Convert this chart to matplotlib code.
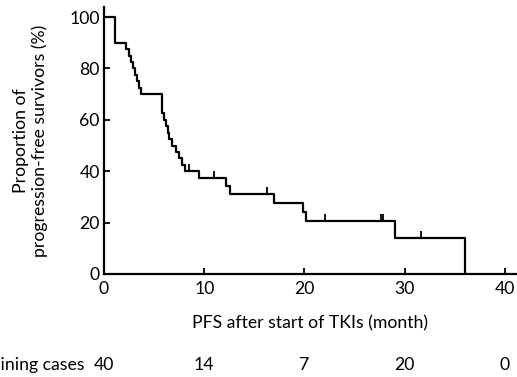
import matplotlib
matplotlib.use("Agg")
import matplotlib.pyplot as plt

plt.rcParams['font.family'] = ['Lato', 'DejaVu Sans']

# Kaplan-Meier steps (months, % surviving)
step_t = [0, 1.1, 2.2, 2.5, 2.7, 2.9, 3.1, 3.3, 3.5, 3.7,
          5.75, 6.0, 6.2, 6.35, 6.5, 6.8, 7.2, 7.5, 7.8, 8.1,
          9.5, 12.2, 12.6, 17.0, 19.9, 20.2, 29.0, 36.0]
step_s = [100, 90, 87.5, 85, 82.5, 80, 77.5, 75, 72.5, 70,
          62.5, 60, 57.5, 55, 52.5, 50, 47.5, 45, 42.5, 40,
          37.3, 34.3, 31.3, 27.8, 24.3, 20.8, 13.9, 0]
cens_t = [8.5, 11.0, 16.3, 22.0, 27.6, 27.85, 31.6]
cens_s = [40, 37.3, 31.3, 20.8, 20.8, 20.8, 13.9]

risk_t = [0, 10, 20, 30, 40]
risk_n = ['40', '14', '7', '20', '0']

fs = 12.7

fig = plt.figure(figsize=(5.17, 3.77), dpi=100)
ax = fig.add_axes([104/517, 1 - 274/377, 413/517, 267/377])

ax.step(step_t, step_s, where='post', color='black', lw=1.6)
ax.plot(cens_t, cens_s, ls='none', marker=2, ms=5, mew=1.3, color='black')

ax.set_xlim(0, 41.2)
ax.set_ylim(0, 103.9)
ax.set_xticks([0, 10, 20, 30, 40])
ax.set_yticks([0, 20, 40, 60, 80, 100])
ax.tick_params(direction='in', length=4, width=1.3, labelsize=fs, color='black')
ax.tick_params(axis='x', pad=5)
ax.tick_params(axis='y', pad=3)
for s in ['top', 'right']:
    ax.spines[s].set_visible(False)
for s in ['left', 'bottom']:
    ax.spines[s].set_linewidth(1.6)

ax.set_xlabel('PFS after start of TKIs (month)', fontsize=fs, labelpad=13)
ax.set_ylabel('Proportion of\nprogression-free survivors (%)', fontsize=fs, labelpad=15)

trans = ax.get_xaxis_transform()
ax.text(-1.9, -0.34, 'Remaining cases', transform=trans, ha='right', va='center', fontsize=fs)
for t, n in zip(risk_t, risk_n):
    ax.text(t, -0.34, n, transform=trans, ha='center', va='center', fontsize=fs)

fig.savefig('out.png', dpi=100)
